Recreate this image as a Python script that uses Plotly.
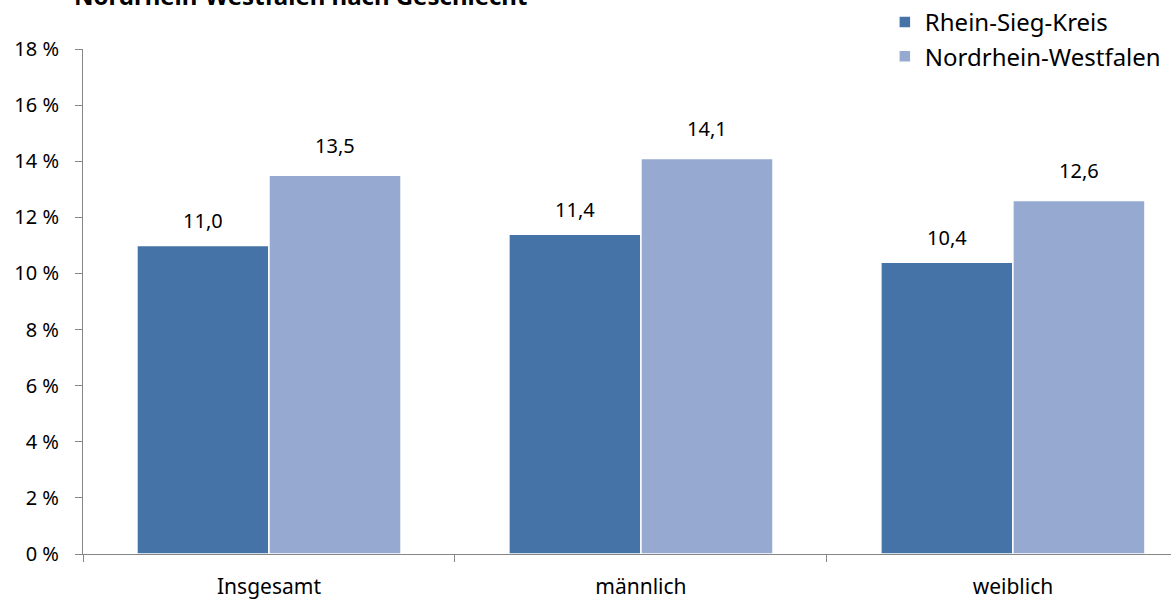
import plotly.graph_objects as go

categories = ["Insgesamt", "männlich", "weiblich"]
series_names = ["Rhein-Sieg-Kreis", "Nordrhein-Westfalen"]
rsk_values = [11.0, 11.4, 10.4]
nrw_values = [13.5, 14.1, 12.6]
y_ticks = [0, 2, 4, 6, 8, 10, 12, 14, 16, 18]
y_tick_labels = [f"{v} %" for v in y_ticks]
title_text = "Nordrhein-Westfalen nach Geschlecht"

colors = ["#4573A7", "#95A9D1"]
FONT = "Noto Sans"

fig = go.Figure()
for name, vals, col in zip(series_names, [rsk_values, nrw_values], colors):
    fig.add_trace(go.Bar(
        name=name, x=categories, y=vals,
        marker=dict(color=col, line=dict(color="white", width=1.5)),
    ))

def fmt(v):
    return f"{v:.1f}".replace(".", ",")

for vals, xs, ys in [(rsk_values, -66, 25), (nrw_values, 66, 30)]:
    for c, v in zip(categories, vals):
        fig.add_annotation(x=c, y=v, text=fmt(v), showarrow=False,
                           xshift=xs, yshift=ys, yanchor="middle",
                           font=dict(family=FONT, size=20, color="black"))

fig.add_annotation(xref="paper", yref="paper", x=-0.0105, y=1, xanchor="left",
                   yanchor="bottom", yshift=35, showarrow=False,
                   text=f"<b>{title_text}</b>",
                   font=dict(family=FONT, size=24, color="black"))

fig.update_layout(
    width=1171, height=601,
    margin=dict(l=83, r=0, t=49, b=47, autoexpand=False),
    paper_bgcolor="white", plot_bgcolor="white",
    barmode="group", bargap=0.29, bargroupgap=0,
    font=dict(family=FONT, color="black"),
    showlegend=True,
    legend=dict(x=0.737, y=1.097, xanchor="left", yanchor="top",
                font=dict(family=FONT, size=24, color="black"),
                tracegroupgap=0, itemwidth=30, bgcolor="rgba(0,0,0,0)"),
)
fig.update_xaxes(range=[-0.5, 2.425], showline=True, linecolor="#868686", linewidth=1,
                 ticks="outside", tickson="boundaries", ticklen=7, tickcolor="#868686",
                 ticklabelstandoff=14, automargin=False,
                 tickfont=dict(family=FONT, size=21, color="black"), showgrid=False)
fig.update_yaxes(range=[0, 18], tickvals=y_ticks, ticktext=y_tick_labels, showline=True,
                 linecolor="#868686", linewidth=1, ticks="outside", ticklen=7,
                 tickcolor="#868686", showgrid=False, zeroline=False,
                 ticklabelstandoff=12, automargin=False,
                 tickfont=dict(family=FONT, size=20, color="black"))

fig.write_html("out.html", config={"displayModeBar": False},
               post_script="document.body.style.margin='0';document.body.style.overflow='hidden';")
